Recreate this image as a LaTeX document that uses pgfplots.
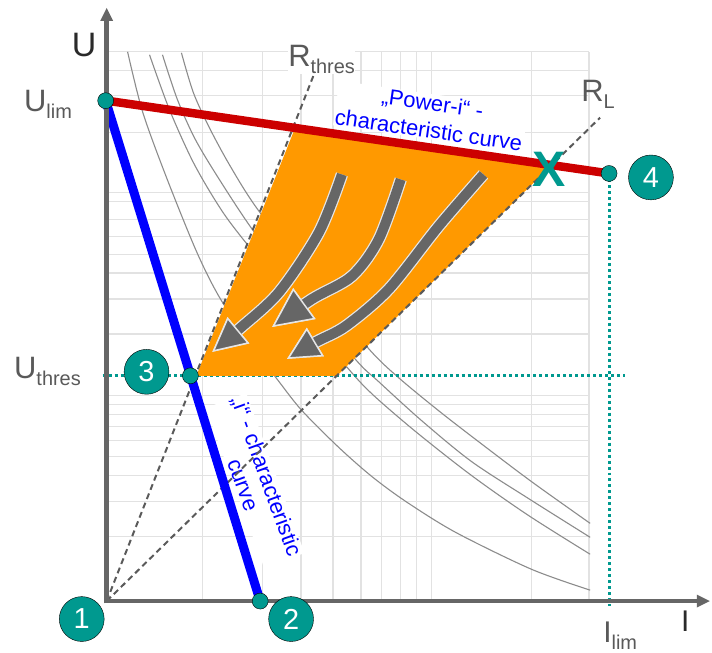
\documentclass[border=0pt]{standalone}
\usepackage{fontspec}
\setmainfont{Liberation Sans}
\usepackage{pgfplots}
\pgfplotsset{compat=1.18}
\usetikzlibrary{arrows.meta}
\definecolor{tealc}{HTML}{00998F}
\definecolor{orangec}{HTML}{FF9900}
\definecolor{redc}{HTML}{CC0000}
\definecolor{bluec}{HTML}{0000FF}
\definecolor{gridc}{HTML}{E2E2E2}
\definecolor{curvec}{HTML}{8C8C8C}
\definecolor{dashc}{HTML}{5A5A5A}
\definecolor{axisc}{HTML}{666666}
\definecolor{arrowc}{HTML}{666666}
\definecolor{arrowedge}{HTML}{E6E6E6}
\definecolor{labelc}{HTML}{595959}
\definecolor{labeldark}{HTML}{2A2A2A}
\newcommand{\lbl}[2]{#1\raisebox{-7pt}{\fontsize{20}{20}\selectfont #2}}
\begin{document}
\begin{tikzpicture}
\begin{axis}[width=712pt, height=655pt, scale only axis,
  xmin=0, xmax=712, ymin=0, ymax=655, hide axis, clip=false]
% background
\addplot[draw=none, fill=white] coordinates {(0,0)(712,0)(712,655)(0,655)} -- cycle;
% grid (vertical)
\addplot[gridc, line width=1.3pt, unbounded coords=jump] coordinates {
(203,52)(203,603)(203,nan)
(263,52)(263,603)(263,nan)
(302,52)(302,603)(302,nan)
(334,52)(334,603)(334,nan)
(362,52)(362,603)(362,nan)
(383,52)(383,603)(383,nan)
(402,52)(402,603)(402,nan)
(418,52)(418,603)(418,nan)
(433,52)(433,603)(433,nan)
(533,52)(533,603)(533,nan)
(591,52)(591,603)};
% grid (horizontal)
\addplot[gridc, line width=1.3pt, unbounded coords=jump] coordinates {
(107,603)(591,603)(nan,603)
(107,584)(591,584)(nan,584)
(107,559)(591,559)(nan,559)
(107,522)(591,522)(nan,522)
(107,462)(591,462)(nan,462)
(107,453)(591,453)(nan,453)
(107,435)(591,435)(nan,435)
(107,418)(591,418)(nan,418)
(107,400)(591,400)(nan,400)
(107,381)(591,381)(nan,381)
(107,355)(591,355)(nan,355)
(107,320)(591,320)(nan,320)
(107,258)(591,258)(nan,258)
(107,249)(591,249)(nan,249)
(107,239)(591,239)(nan,239)
(107,227)(591,227)(nan,227)
(107,213)(591,213)(nan,213)
(107,197)(591,197)(nan,197)
(107,178)(591,178)(nan,178)
(107,152)(591,152)(nan,152)
(107,117)(591,117)};
% text boxes with white background
\node[rotate=-8.2, fill=white, inner sep=1pt, align=center, text=bluec,
  font=\fontsize{22}{27}\selectfont] at (axis cs:432,538) {„Power-i“ -\\characteristic curve};
\node[rotate=-70, fill=white, inner sep=1pt, align=center, text=bluec,
  font=\fontsize{22}{25}\selectfont] at (axis cs:256,173) {„i“ - characteristic\\curve};
\node[anchor=base west, inner sep=0pt, fill=white, text=labelc, font=\fontsize{31}{31}\selectfont]
  at (axis cs:289,588) {\lbl{R}{thres}};
\node[anchor=base west, inner sep=0pt, text=labelc, font=\fontsize{31}{31}\selectfont]
  at (axis cs:583,553) {\lbl{R}{L}};
% power curves
\addplot[curvec, line width=1.1pt, smooth] coordinates {(128,603)(143,543)(167,477)(197,403)(220,357)(250,312)(280,272)(303,243)(340,206)(373,177)(407,152)(457,121)(533,84)(592,63)};
\addplot[curvec, line width=1.1pt, smooth] coordinates {(150,600)(170,545)(195,490)(225,440)(260,395)(300,347)(347,288)(373,260)(417,222)(473,178)(530,138)(592,99)};
\addplot[curvec, line width=1.1pt, smooth] coordinates {(163,600)(178,555)(196,515)(220,475)(253,425)(300,363)(357,294)(380,272)(423,233)(473,192)(530,155)(592,116)};
\addplot[curvec, line width=1.1pt, smooth] coordinates {(182,602)(194,562)(210,527)(230,490)(257,447)(312,375)(370,305)(400,276)(440,243)(480,212)(533,172)(592,130)};
% teal dotted guide lines
\addplot[tealc, line width=3pt, dash pattern=on 3pt off 3pt] coordinates {(103,278)(627,278)};
\addplot[tealc, line width=3pt, dash pattern=on 3pt off 3pt] coordinates {(611,481)(611,47)};
% orange area
\addplot[draw=none, fill=orangec] coordinates {(197,278)(296,526.6)(553.4,489.4)(338,278)} -- cycle;
% resistance lines
\addplot[dashc, line width=2pt, dash pattern=on 6pt off 4pt] coordinates {(107,52)(316,583)};
\addplot[dashc, line width=2pt, dash pattern=on 6pt off 4pt] coordinates {(107,52)(602,537)};
% gray arrows (outline + body)
\addplot[arrowedge, line width=12.5pt, smooth, -{Triangle[length=34pt,width=34pt,line width=1.5pt,fill=arrowedge,color=arrowedge]}]
  coordinates {(343,480)(320,422)(280,362)(240,325)(213,302)};
\addplot[arrowc, line width=10pt, smooth, -{Triangle[length=34pt,width=34pt,line width=1.5pt,fill=arrowc,color=arrowedge]}]
  coordinates {(343,480)(320,422)(280,362)(240,325)(213,302)};
\addplot[arrowedge, line width=12.5pt, smooth, -{Triangle[length=40pt,width=38pt,line width=1.5pt,fill=arrowedge,color=arrowedge]}]
  coordinates {(402,475)(380,415)(353,378)(313,355)(273,327)};
\addplot[arrowc, line width=10pt, smooth, -{Triangle[length=40pt,width=38pt,line width=1.5pt,fill=arrowc,color=arrowedge]}]
  coordinates {(402,475)(380,415)(353,378)(313,355)(273,327)};
\addplot[arrowedge, line width=12.5pt, smooth, -{Triangle[length=33pt,width=33pt,line width=1.5pt,fill=arrowedge,color=arrowedge]}]
  coordinates {(485,480)(440,428)(390,365)(347,328)(317,312)(288,295)};
\addplot[arrowc, line width=10pt, smooth, -{Triangle[length=33pt,width=33pt,line width=1.5pt,fill=arrowc,color=arrowedge]}]
  coordinates {(485,480)(440,428)(390,365)(347,328)(317,312)(288,295)};
% characteristic curves
\addplot[redc, line width=8.5pt] coordinates {(107,554)(611,481)};
\addplot[bluec, line width=9pt] coordinates {(106,554)(261,52)};
% axes
\addplot[axisc, line width=4.5pt, -{Triangle[length=13pt,width=13pt,line width=0pt]}] coordinates {(107,49.75)(107,647)};
\addplot[axisc, line width=4.5pt, -{Triangle[length=13pt,width=13pt,line width=0pt]}] coordinates {(104.75,52)(712,52)};
% small dots
\addplot[only marks, mark=*, mark size=8pt, mark options={draw=none, fill=tealc}] coordinates {(106,554)(611,481)(191,278)(261,52)};
% operating point X
\addplot[only marks, mark=text, text mark={X}, text mark as node=true,
  text mark style={font=\fontsize{50}{50}\selectfont\bfseries, text=tealc, inner sep=0pt}] coordinates {(551,485)};
% numbered circles
\addplot[only marks, mark=*, mark size=22.5pt, mark options={draw=none, fill=tealc},
  point meta=explicit symbolic, nodes near coords,
  every node near coord/.append style={anchor=center, text=white, inner sep=0pt,
    font=\fontsize{29}{29}\selectfont}]
  table[meta=lab] {
x y lab
82 34 1
292 34 2
147 282 3
653 477 4
};
% axis labels
\node[anchor=base west, inner sep=0pt, text=labeldark, font=\fontsize{34}{34}\selectfont] at (axis cs:72,598) {U};
\node[anchor=base west, inner sep=0pt, text=labelc, font=\fontsize{31}{31}\selectfont] at (axis cs:24,543) {\lbl{U}{lim}};
\node[anchor=base west, inner sep=0pt, text=labelc, font=\fontsize{31}{31}\selectfont] at (axis cs:14,275) {\lbl{U}{thres}};
\node[anchor=base west, inner sep=0pt, text=labeldark, font=\fontsize{30}{30}\selectfont] at (axis cs:683,22) {I};
\node[anchor=base west, inner sep=0pt, text=labelc, font=\fontsize{30}{30}\selectfont] at (axis cs:605,10) {\lbl{I}{lim}};
\end{axis}
\end{tikzpicture}
\end{document}
